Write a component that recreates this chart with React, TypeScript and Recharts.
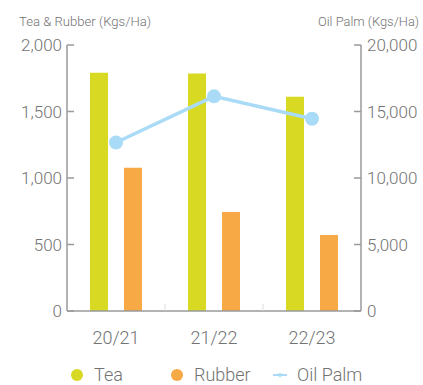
import React from 'react';
import {
  ComposedChart,
  Bar,
  Line,
  XAxis,
  YAxis,
  Legend,
} from 'recharts';

const seasons = ['20/21', '21/22', '22/23'];
const teaYield = [1792, 1785, 1611];
const rubberYield = [1077, 745, 572];
const oilPalmYield = [12670, 16140, 14460];

const leftTicks = [0, 500, 1000, 1500, 2000];
const rightTicks = [0, 5000, 10000, 15000, 20000];
const legendOrder = ['Tea', 'Rubber', 'Oil Palm'];

const TEA = '#d7d922';
const RUBBER = '#f6a944';
const OIL_PALM = '#a9dbf6';
const AXIS = '#9a9a9a';
const LABEL = '#737373';
const FONT = "Roboto, 'Liberation Sans', Arial, sans-serif";

const data = seasons.map((season, i) => ({
  season,
  tea: teaYield[i],
  rubber: rubberYield[i],
  oilPalm: oilPalmYield[i],
}));

const fmt = (v: number) => v.toLocaleString('en-US');

// category label plus a short divider on the band boundary
const SeasonTick = (props: any) => {
  const { x, y, payload, index, visibleTicksCount } = props;
  const axisY = y - 20;
  const edge = x + (payload.offset || 0);
  return (
    <g>
      {index < visibleTicksCount - 1 && (
        <line x1={edge} x2={edge} y1={axisY} y2={axisY - 7} stroke="#dcdcdc" strokeWidth={1} />
      )}
      <text
        x={x}
        y={y}
        dy="0.71em"
        textAnchor="middle"
        fill={LABEL}
        fontSize={18}
        fontWeight={300}
        fontFamily={FONT}
      >
        {payload.value}
      </text>
    </g>
  );
};

const LegendContent = (props: any) => {
  const widths = [100, 103, 110];
  const items = [...(props.payload || [])].sort(
    (a: any, b: any) => legendOrder.indexOf(a.value) - legendOrder.indexOf(b.value)
  );
  return (
    <div style={{ display: 'flex', fontFamily: FONT, fontWeight: 300, fontSize: 18, color: LABEL }}>
      {items.map((entry: any, i: number) => (
        <div key={entry.value} style={{ width: widths[i], display: 'flex', alignItems: 'center' }}>
          <svg width={14} height={14} style={{ marginRight: 10 }}>
            {entry.type === 'line' ? (
              <g>
                <line x1={0} x2={14} y1={7} y2={7} stroke={entry.color} strokeWidth={2} />
                <circle cx={7} cy={7} r={2} fill={entry.color} />
              </g>
            ) : (
              <circle cx={7} cy={7} r={6} fill={entry.color} />
            )}
          </svg>
          <span>{entry.value}</span>
        </div>
      ))}
    </div>
  );
};

export default function App() {
  return (
    <div style={{ position: 'absolute', left: 0, top: 0, background: '#fff' }}>
      <ComposedChart
        width={423}
        height={385}
        data={data}
        margin={{ top: 45, right: 0, bottom: 34, left: 0 }}
        barSize={18}
        barGap={16}
      >
        <XAxis
          dataKey="season"
          height={40}
          stroke={AXIS}
          strokeWidth={1.5}
          tickLine={false}
          tickSize={0}
          tickMargin={20}
          tick={<SeasonTick />}
        />
        <YAxis
          yAxisId="left"
          orientation="left"
          width={67}
          domain={[0, 2000]}
          ticks={leftTicks}
          interval={0}
          stroke={AXIS}
          strokeWidth={1.5}
          tickSize={-7}
          tickMargin={12}
          tickFormatter={fmt}
          tick={{ fill: LABEL, fontSize: 17, fontWeight: 300, fontFamily: FONT }}
          label={{
            content: (p: any) => (
              <text
                x={p.viewBox.x + 19}
                y={p.viewBox.y - 19}
                fill={LABEL}
                fontSize={13.5}
                fontWeight={300}
                fontFamily={FONT}
                textLength={132}
                lengthAdjust="spacingAndGlyphs"
              >
                Tea &amp; Rubber (Kgs/Ha)
              </text>
            ),
          }}
        />
        <YAxis
          yAxisId="right"
          orientation="right"
          width={62}
          domain={[0, 20000]}
          ticks={rightTicks}
          interval={0}
          stroke={AXIS}
          strokeWidth={1.5}
          tickSize={-7}
          tickMargin={13}
          tickFormatter={fmt}
          tick={{ fill: LABEL, fontSize: 17, fontWeight: 300, fontFamily: FONT }}
          label={{
            content: (p: any) => (
              <text
                x={p.viewBox.x + p.viewBox.width - 4}
                y={p.viewBox.y - 19}
                textAnchor="end"
                fill={LABEL}
                fontSize={13.5}
                fontWeight={300}
                fontFamily={FONT}
                textLength={101}
                lengthAdjust="spacingAndGlyphs"
              >
                Oil Palm (Kgs/Ha)
              </text>
            ),
          }}
        />
        <Legend
          layout="horizontal"
          align="center"
          verticalAlign="middle"
          wrapperStyle={{ top: 364, left: 70, width: 340 }}
          content={<LegendContent />}
        />
        <Bar yAxisId="left" dataKey="tea" name="Tea" fill={TEA} legendType="circle" isAnimationActive={false} />
        <Bar yAxisId="left" dataKey="rubber" name="Rubber" fill={RUBBER} legendType="circle" isAnimationActive={false} />
        <Line
          yAxisId="right"
          dataKey="oilPalm"
          name="Oil Palm"
          type="linear"
          stroke={OIL_PALM}
          strokeWidth={3.5}
          dot={{ r: 7, fill: OIL_PALM, stroke: 'none' }}
          activeDot={false}
          legendType="line"
          isAnimationActive={false}
        />
      </ComposedChart>
    </div>
  );
}
